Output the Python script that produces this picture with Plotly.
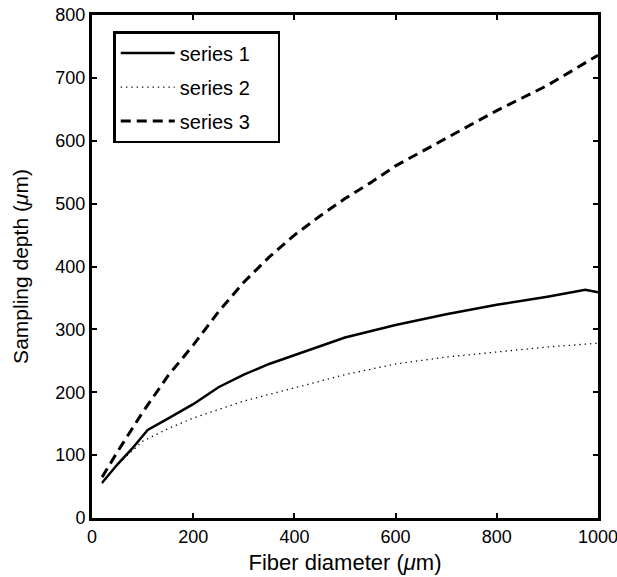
import plotly.graph_objects as go

x1 = [20, 50, 80, 110, 150, 200, 250, 300, 350, 400, 450, 500, 600, 700, 800, 900, 975, 1000]
y1 = [56, 85, 111, 140, 158, 181, 208, 228, 245, 259, 273, 287, 307, 324, 339, 352, 363, 359]

x2 = [20, 50, 100, 150, 200, 300, 400, 500, 600, 700, 800, 900, 1000]
y2 = [55, 85, 122, 142, 159, 186, 207, 228, 245, 256, 264, 272, 278]

x3 = [20, 50, 100, 150, 200, 250, 300, 350, 400, 450, 500, 550, 600, 650, 700, 750, 800, 850, 900, 950, 1000]
y3 = [65, 105, 168, 226, 275, 328, 375, 415, 450, 480, 508, 533, 560, 582, 604, 626, 648, 668, 688, 712, 736]

names = ["series 1", "series 2", "series 3"]
pad = "\u00a0" * 4

fig = go.Figure()
fig.add_trace(go.Scatter(x=x1, y=y1, mode="lines", name=names[0] + pad, legendgroup="a",
                         line=dict(color="black", width=2.5, dash="solid")))
fig.add_trace(go.Scatter(x=x2, y=y2, mode="lines", name=names[1] + pad, legendgroup="b",
                         line=dict(color="black", width=1.3, dash="1.3px,4px")))
fig.add_trace(go.Scatter(x=x3, y=y3, mode="lines", name=names[2] + pad, legendgroup="c",
                         line=dict(color="black", width=3, dash="10px,6px")))

axis_common = dict(showgrid=False, zeroline=False, showline=True, linecolor="black",
                   linewidth=3, mirror="ticks", ticks="inside", ticklen=5, tickwidth=2,
                   tickcolor="black", tickfont=dict(size=18, color="black"),
                   automargin=False, ticklabeloverflow="allow")

fig.update_layout(
    width=617, height=577,
    margin=dict(l=92, r=19, t=15, b=59),
    paper_bgcolor="white", plot_bgcolor="white",
    font=dict(family="Liberation Sans, Arial, sans-serif", color="black", size=18),
    xaxis=dict(range=[0, 1000], tickvals=[0, 200, 400, 600, 800, 1000],
               title=dict(text="Fiber diameter (<i>μ</i>m)", font=dict(size=22), standoff=10),
               **axis_common),
    yaxis=dict(range=[0, 800], tickvals=[0, 100, 200, 300, 400, 500, 600, 700, 800],
               title=dict(text="Sampling depth (<i>μ</i>m)", font=dict(size=21), standoff=22),
               **axis_common),
    legend=dict(x=0.042, y=0.968, xanchor="left", yanchor="top",
                bgcolor="white", bordercolor="black", borderwidth=2.5,
                font=dict(size=20), tracegroupgap=5, itemwidth=54),
    showlegend=True,
)

fig.write_html("out.html")
